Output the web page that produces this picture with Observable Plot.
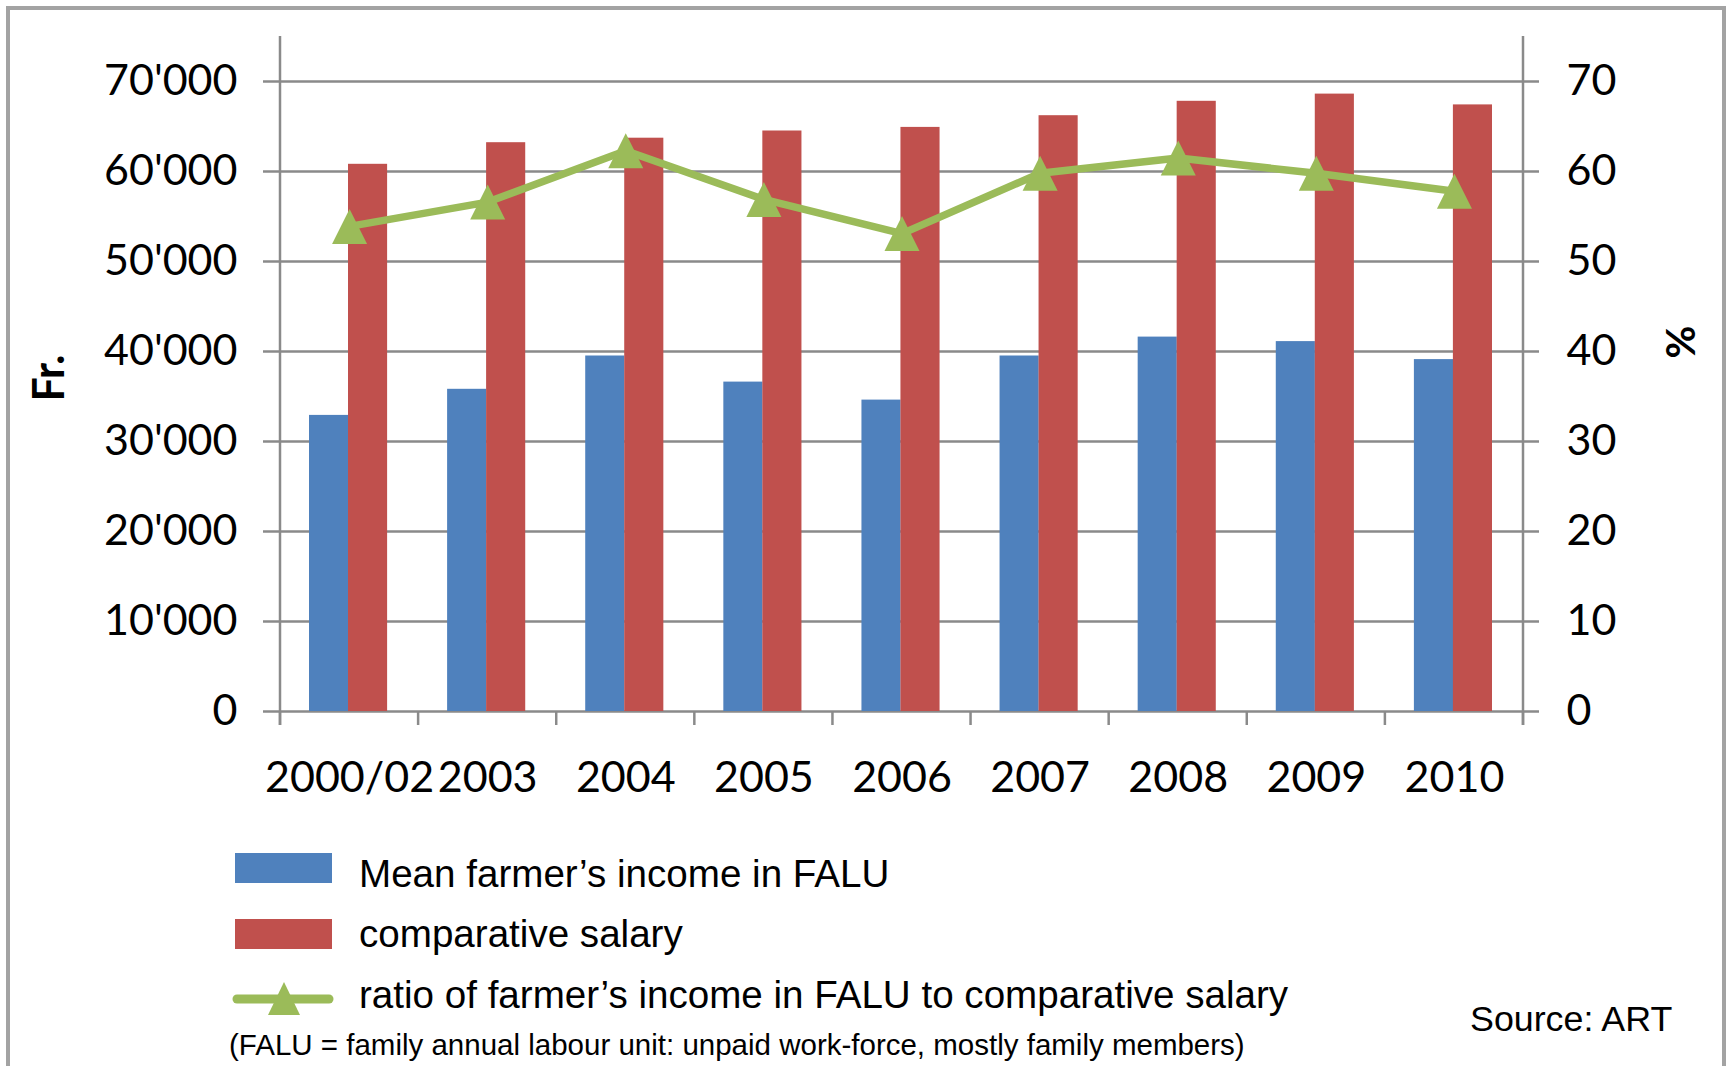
<!DOCTYPE html>
<html>
<head>
<meta charset="utf-8">
<script src="https://cdn.jsdelivr.net/npm/d3@7"></script>
<script src="https://cdn.jsdelivr.net/npm/@observablehq/plot@0.6"></script>
<style>
  body { margin: 0; background: #fff; }
  #wrap { position: relative; width: 1729px; height: 1066px; overflow: hidden; background: #fff; }
  #frame { position: absolute; left: 6px; top: 6px; width: 1720px; height: 1120px; border: 4px solid #a3a3a3; box-sizing: border-box; }
  #chart { position: absolute; left: 0; top: 0; }
  .lg { position: absolute; font-family: "Liberation Sans", Arial, sans-serif; color: #000; white-space: nowrap; line-height: 1; }
  .sw { position: absolute; }
</style>
</head>
<body>
<div id="wrap">
  <div id="frame"></div>
  <div id="chart"></div>
  <div class="sw" style="left:235px;top:853px;width:97px;height:30px;background:#4F81BD;"></div>
  <div class="lg" style="left:359px;top:855px;font-size:38.6px;">Mean farmer’s income in FALU</div>
  <div class="sw" style="left:235px;top:919px;width:97px;height:30px;background:#C0504D;"></div>
  <div class="lg" style="left:359px;top:915px;font-size:38.6px;">comparative salary</div>
  <svg class="sw" style="left:228px;top:978px;" width="110" height="42">
    <line x1="9" y1="21" x2="101" y2="21" stroke="#9BBB59" stroke-width="9" stroke-linecap="round"/>
    <path d="M56,4 L72,37 L40,37 Z" fill="#9BBB59"/>
  </svg>
  <div class="lg" style="left:359px;top:976px;font-size:38.6px;">ratio of farmer’s income in FALU to comparative salary</div>
  <div class="lg" style="left:229px;top:1030px;font-size:29.5px;">(FALU = family annual labour unit: unpaid work-force, mostly family members)</div>
  <div class="lg" style="left:1470px;top:1002px;font-size:35.8px;">Source: ART</div>
</div>
<script>
// ---- data ----
const categories = ["2000/02", "2003", "2004", "2005", "2006", "2007", "2008", "2009", "2010"];
const farmerIncome = [32900, 35800, 39500, 36600, 34600, 39500, 41600, 41100, 39100];
const comparativeSalary = [60800, 63200, 63700, 64500, 64900, 66200, 67800, 68600, 67400];
const ratioPct = [53.9, 56.6, 62.3, 56.9, 53.1, 59.8, 61.5, 59.8, 57.8];
const leftTicks = [0, 10000, 20000, 30000, 40000, 50000, 60000, 70000];
const rightTickLabels = ["0", "10", "20", "30", "40", "50", "60", "70"];

const rows = categories.map((c, i) => ({
  cat: c, income: farmerIncome[i], salary: comparativeSalary[i], ratio: ratioPct[i]
}));

const gridColor = "#8a8a8a";
const fmtLeft = d => d === 0 ? "0" : d3.format(",")(d).replace(/,/g, "'");

// Excel-like triangle marker (width == height, centered on bounding box)
const excelTriangle = {
  draw(ctx, size) {
    const s = Math.sqrt(size / Math.PI);
    ctx.moveTo(0, -s);
    ctx.lineTo(s, s);
    ctx.lineTo(-s, s);
    ctx.closePath();
  }
};

// axis frame lines + category boundary ticks, drawn from the x band scale
function categoryFrame(index, scales, values, dims) {
  const x = scales.x, y = scales.y;
  const bw = x.bandwidth();
  const y0 = y(0);
  const g = d3.create("svg:g").attr("stroke", gridColor).attr("stroke-width", 2.5);
  const edges = categories.map(c => x(c)).concat([x(categories[categories.length - 1]) + bw]);
  edges.forEach(e => {
    g.append("line").attr("x1", e).attr("x2", e).attr("y1", y0).attr("y2", y0 + 14);
  });
  [edges[0], edges[edges.length - 1]].forEach(e => {
    g.append("line").attr("x1", e).attr("x2", e).attr("y1", dims.marginTop).attr("y2", y0 + 14);
  });
  return g.node();
}

const chart = Plot.plot({
  width: 1729,
  height: 830,
  marginTop: 36,
  marginBottom: 119,
  marginLeft: 280,
  marginRight: 206,
  style: { fontFamily: "Lato, 'Open Sans', sans-serif", fontSize: "43px", color: "#000", background: "transparent", overflow: "visible" },
  x: { type: "band", domain: categories, padding: 0, round: false, label: null },
  y: { domain: [0, 75000], label: null },
  marks: [
    Plot.ruleY(leftTicks, { stroke: gridColor, strokeWidth: 2.5 }),
    Plot.barY(rows, { x: "cat", y: "income", fill: "#4F81BD", insetLeft: 29, insetRight: 70 }),
    Plot.barY(rows, { x: "cat", y: "salary", fill: "#C0504D", insetLeft: 68, insetRight: 31 }),
    categoryFrame,
    Plot.axisY({ anchor: "left", ticks: leftTicks, tickSize: 17, tickPadding: 26, tickFormat: fmtLeft,
      stroke: gridColor, strokeWidth: 2.5, strokeOpacity: 1, fill: "#000", fontSize: 43, label: null }),
    Plot.axisY({ anchor: "right", ticks: leftTicks, tickSize: 15, tickPadding: 28,
      tickFormat: (d, i) => rightTickLabels[i],
      stroke: gridColor, strokeWidth: 2.5, strokeOpacity: 1, fill: "#000", fontSize: 43, label: null }),
    Plot.axisX({ anchor: "bottom", tickSize: 0, tickPadding: 50, fill: "#000", fontSize: 43, label: null }),
    Plot.line(rows, { x: "cat", y: d => d.ratio * 1000, stroke: "#9BBB59", strokeWidth: 7.5, strokeLinejoin: "round" }),
    Plot.dot(rows, { x: "cat", y: d => d.ratio * 1000, symbol: excelTriangle, r: 17.5, fill: "#9BBB59", stroke: "none" }),
    Plot.text(["Fr."], { text: d => d, frameAnchor: "left", textAnchor: "middle", dx: -230, dy: 4, rotate: -90, fontWeight: "bold", fontSize: 43, fill: "#000" }),
    Plot.text(["%"], { text: d => d, frameAnchor: "right", textAnchor: "middle", dx: 159, dy: -32, rotate: -90, fontWeight: "bold", fontSize: 40, fill: "#000" })
  ]
});
document.getElementById("chart").appendChild(chart);
</script>
</body>
</html>
